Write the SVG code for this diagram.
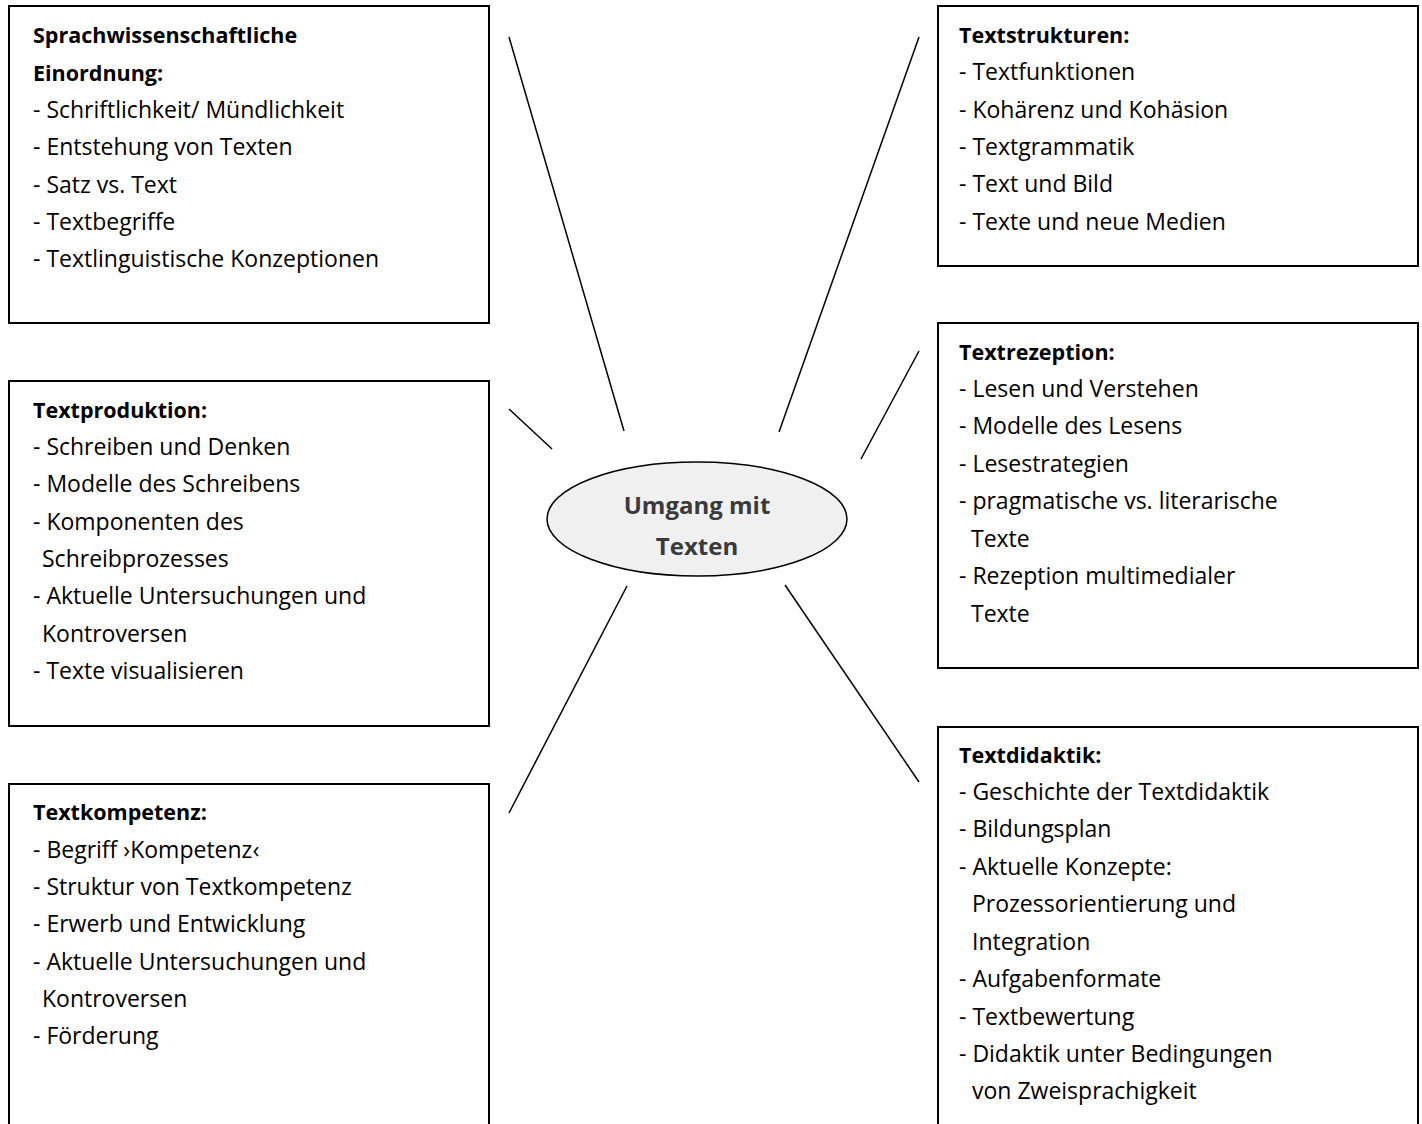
<svg xmlns="http://www.w3.org/2000/svg" width="1422" height="1124" viewBox="0 0 1422 1124">
<style>
.box{fill:#fff;stroke:#000;stroke-width:2}
.t{font-family:"Open Sans","Liberation Sans",sans-serif;font-size:23px;fill:#000}
.h{font-weight:bold;font-size:21.5px}
.c{stroke:#000;stroke-width:1.5;fill:none}
.ct{font-family:"Open Sans","Liberation Sans",sans-serif;font-size:24px;font-weight:bold;fill:#3a3a3a;text-anchor:middle}
</style>
<rect width="1422" height="1124" fill="#fff"/>
<g id="connectors">
<line class="c" x1="509" y1="37" x2="624" y2="431"/>
<line class="c" x1="919" y1="37" x2="779" y2="432"/>
<line class="c" x1="509" y1="409" x2="552" y2="449"/>
<line class="c" x1="919" y1="351" x2="861" y2="459"/>
<line class="c" x1="627" y1="586" x2="509" y2="813"/>
<line class="c" x1="785" y1="585" x2="919" y2="782"/>
</g>
<g id="center">
<ellipse cx="697" cy="519" rx="150" ry="57" fill="#f0f0f0" stroke="#000" stroke-width="1.5"/>
<text class="ct" x="697" y="514">Umgang mit</text>
<text class="ct" x="697" y="555">Texten</text>
</g>
<g id="sprachwissenschaft">
<rect class="box" x="9" y="6" width="480" height="317"/>
<text class="t h" x="33" y="43">Sprachwissenschaftliche</text>
<text class="t h" x="33" y="81">Einordnung:</text>
<text class="t" x="33" y="118">- Schriftlichkeit/ Mündlichkeit</text>
<text class="t" x="33" y="155">- Entstehung von Texten</text>
<text class="t" x="33" y="193">- Satz vs. Text</text>
<text class="t" x="33" y="230">- Textbegriffe</text>
<text class="t" x="33" y="267">- Textlinguistische Konzeptionen</text>
</g>
<g id="textstrukturen">
<rect class="box" x="938" y="6" width="480" height="260"/>
<text class="t h" x="959" y="43">Textstrukturen:</text>
<text class="t" x="959" y="80">- Textfunktionen</text>
<text class="t" x="959" y="118">- Kohärenz und Kohäsion</text>
<text class="t" x="959" y="155">- Textgrammatik</text>
<text class="t" x="959" y="192">- Text und Bild</text>
<text class="t" x="959" y="230">- Texte und neue Medien</text>
</g>
<g id="textproduktion">
<rect class="box" x="9" y="381" width="480" height="345"/>
<text class="t h" x="33" y="418">Textproduktion:</text>
<text class="t" x="33" y="455">- Schreiben und Denken</text>
<text class="t" x="33" y="492">- Modelle des Schreibens</text>
<text class="t" x="33" y="530">- Komponenten des</text>
<text class="t" x="42" y="567">Schreibprozesses</text>
<text class="t" x="33" y="604">- Aktuelle Untersuchungen und</text>
<text class="t" x="42" y="642">Kontroversen</text>
<text class="t" x="33" y="679">- Texte visualisieren</text>
</g>
<g id="textrezeption">
<rect class="box" x="938" y="323" width="480" height="345"/>
<text class="t h" x="959" y="360">Textrezeption:</text>
<text class="t" x="959" y="397">- Lesen und Verstehen</text>
<text class="t" x="959" y="434">- Modelle des Lesens</text>
<text class="t" x="959" y="472">- Lesestrategien</text>
<text class="t" x="959" y="509">- pragmatische vs. literarische</text>
<text class="t" x="971" y="547">Texte</text>
<text class="t" x="959" y="584">- Rezeption multimedialer</text>
<text class="t" x="971" y="622">Texte</text>
</g>
<g id="textkompetenz">
<rect class="box" x="9" y="784" width="480" height="350"/>
<text class="t h" x="33" y="820">Textkompetenz:</text>
<text class="t" x="33" y="858">- Begriff ›Kompetenz‹</text>
<text class="t" x="33" y="895">- Struktur von Textkompetenz</text>
<text class="t" x="33" y="932">- Erwerb und Entwicklung</text>
<text class="t" x="33" y="970">- Aktuelle Untersuchungen und</text>
<text class="t" x="42" y="1007">Kontroversen</text>
<text class="t" x="33" y="1044">- Förderung</text>
</g>
<g id="textdidaktik">
<rect class="box" x="938" y="727" width="480" height="410"/>
<text class="t h" x="959" y="763">Textdidaktik:</text>
<text class="t" x="959" y="800">- Geschichte der Textdidaktik</text>
<text class="t" x="959" y="837">- Bildungsplan</text>
<text class="t" x="959" y="875">- Aktuelle Konzepte:</text>
<text class="t" x="972" y="912">Prozessorientierung und</text>
<text class="t" x="972" y="950">Integration</text>
<text class="t" x="959" y="987">- Aufgabenformate</text>
<text class="t" x="959" y="1025">- Textbewertung</text>
<text class="t" x="959" y="1062">- Didaktik unter Bedingungen</text>
<text class="t" x="972" y="1099">von Zweisprachigkeit</text>
</g>
</svg>
